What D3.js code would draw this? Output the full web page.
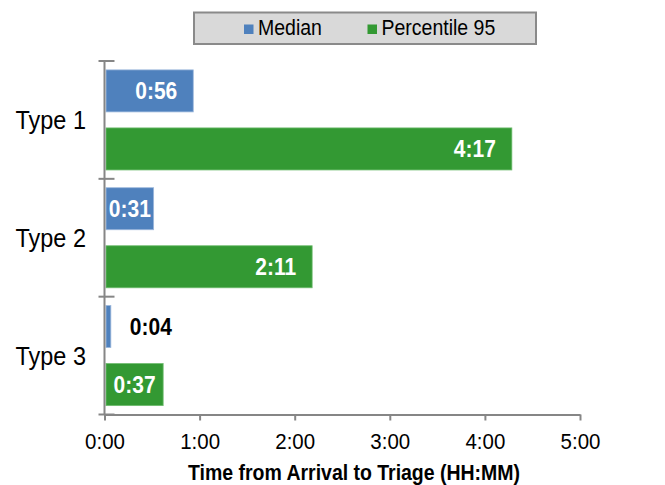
<!DOCTYPE html>
<html>
<head>
<meta charset="utf-8">
<script src="https://cdn.jsdelivr.net/npm/d3@7"></script>
<style>
  html, body { margin: 0; padding: 0; background: #fff; }
  svg text { font-family: "Liberation Sans", Arial, sans-serif; }
</style>
</head>
<body>
<svg id="chart" width="665" height="485"></svg>
<script>
// Triage wait times by patient type, in minutes
const categories = ["Type 1", "Type 2", "Type 3"];
const seriesNames = ["Median", "Percentile 95"];
const medianMinutes = [56, 31, 4];
const p95Minutes = [257, 131, 37];
const tickMinutes = [0, 60, 120, 180, 240, 300];
const tickLabels = ["0:00", "1:00", "2:00", "3:00", "4:00", "5:00"];
const axisTitle = "Time from Arrival to Triage (HH:MM)";

const colors = { "Median": "#4f81bd", "Percentile 95": "#339933" };
const edge = { "Median": "#9db8dc", "Percentile 95": "#6dbb6d" };
const axisColor = "#868686";
const yStretch = 1.12; // text is drawn slightly taller than wide

const svg = d3.select("#chart");

const x = d3.scaleLinear().domain([0, 300]).range([104.5, 580]);
const y = d3.scaleBand().domain(categories).range([61, 414.5]);
const yInner = d3.scaleBand().domain(seriesNames)
  .range([0, y.bandwidth()]).paddingInner(0.276).paddingOuter(0.153);

const fmt = m => Math.floor(m / 60) + ":" + String(m % 60).padStart(2, "0");

function place(sel, px, py) {
  return sel.attr("x", 0).attr("y", 0)
    .attr("transform", `translate(${px},${py}) scale(1,${yStretch})`);
}

const rows = categories.map((c, i) => ({
  cat: c,
  values: [
    { s: "Median", v: medianMinutes[i] },
    { s: "Percentile 95", v: p95Minutes[i] }
  ]
}));

// Bars
const groups = svg.append("g").selectAll("g").data(rows).join("g")
  .attr("transform", d => `translate(0,${y(d.cat)})`);

groups.selectAll("rect").data(d => d.values).join("rect")
  .attr("x", x(0) + 1.5)
  .attr("y", d => yInner(d.s))
  .attr("width", d => Math.max(0, x(d.v) - x(0) - 1.5))
  .attr("height", yInner.bandwidth())
  .attr("fill", d => colors[d.s])
  .attr("stroke", d => edge[d.s])
  .attr("stroke-width", 0.8);

// Data labels: inside the bar end when there is room, centred when tight,
// and outside in black for very short bars
groups.selectAll("text").data(d => d.values).join("text")
  .attr("font-size", 21)
  .attr("font-weight", "bold")
  .text(d => fmt(d.v))
  .each(function (d) {
    const t = d3.select(this);
    const w = this.getComputedTextLength();
    const x0 = x(0) + 1.5, x1 = x(d.v);
    const bw = x1 - x0;
    const cy = yInner(d.s) + yInner.bandwidth() / 2 + 8.3;
    let px;
    if (bw >= w + 32) {
      px = x1 - 16 - w;
      t.attr("fill", "#fff");
    } else if (bw >= w + 2) {
      px = x0 + (bw - w) / 2;
      t.attr("fill", "#fff");
    } else {
      px = x1 + 19;
      t.attr("fill", "#000");
    }
    place(t, px, cy);
  });

// Y axis line and category separators
svg.append("line")
  .attr("x1", x(0)).attr("x2", x(0))
  .attr("y1", y.range()[0]).attr("y2", y.range()[1])
  .attr("stroke", axisColor).attr("stroke-width", 2);

const seps = [y.range()[0]].concat(categories.map(c => y(c) + y.bandwidth()));
svg.append("g").selectAll("line").data(seps).join("line")
  .attr("x1", x(0) - 6).attr("x2", x(0) + 10)
  .attr("y1", d => d).attr("y2", d => d)
  .attr("stroke", axisColor).attr("stroke-width", 2);

// Category labels
svg.append("g").selectAll("text").data(categories).join("text")
  .attr("font-size", 23.5)
  .attr("fill", "#000")
  .attr("text-anchor", "end")
  .text(d => d)
  .each(function (d) { place(d3.select(this), 86, y(d) + y.bandwidth() / 2 + 9); });

// X axis
const xAxis = d3.axisBottom(x)
  .tickValues(tickMinutes)
  .tickFormat((d, i) => tickLabels[i])
  .tickSize(6)
  .tickSizeOuter(0);

const gx = svg.append("g")
  .attr("transform", `translate(0,${y.range()[1]})`)
  .call(xAxis);
gx.select(".domain").attr("stroke", axisColor).attr("stroke-width", 2);
gx.selectAll(".tick line").attr("stroke", axisColor).attr("stroke-width", 2);
gx.selectAll(".tick text")
  .attr("font-size", 20.5)
  .attr("font-family", "Liberation Sans, Arial, sans-serif")
  .attr("fill", "#000")
  .attr("dy", null)
  .attr("text-anchor", "middle")
  .each(function () { place(d3.select(this), 0, 34.5); });

// Axis title
place(svg.append("text")
  .attr("font-size", 19.5)
  .attr("font-weight", "bold")
  .attr("fill", "#000")
  .attr("text-anchor", "middle")
  .attr("textLength", 332)
  .attr("lengthAdjust", "spacing")
  .text(axisTitle), 354, 479.5);

// Legend
const legend = svg.append("g");
legend.append("rect")
  .attr("x", 194).attr("y", 12.5)
  .attr("width", 342).attr("height", 31.5)
  .attr("fill", "#d9d9d9")
  .attr("stroke", "#8a8a8a").attr("stroke-width", 2);

const legendX = { "Median": 244, "Percentile 95": 367.5 };
const items = legend.selectAll("g").data(seriesNames).join("g");
items.append("rect")
  .attr("x", d => legendX[d]).attr("y", 24.5)
  .attr("width", 9.5).attr("height", 9.5)
  .attr("fill", d => colors[d]);
items.append("text")
  .attr("font-size", 19.5)
  .attr("fill", "#000")
  .text(d => d)
  .each(function (d) { place(d3.select(this), legendX[d] + 14, 35); });
</script>
</body>
</html>
